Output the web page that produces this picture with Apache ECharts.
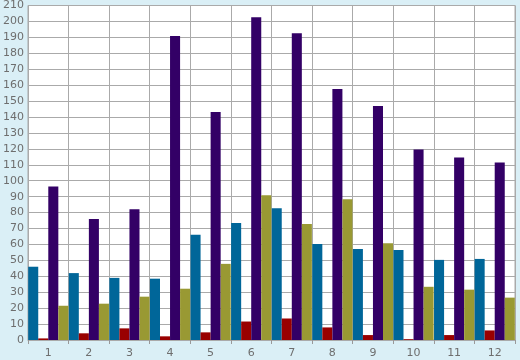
<!DOCTYPE html>
<html><head><meta charset="utf-8">
<script src="https://cdn.jsdelivr.net/npm/echarts@6/dist/echarts.min.js"></script>
<style>html,body{margin:0;padding:0;background:#daeff6;}#c{width:520px;height:360px;}</style>
</head><body><div id="c"></div>
<script>
var categories = ['1','2','3','4','5','6','7','8','9','10','11','12'];
var blueVals   = [46, 42, 39, 38.5, 66, 73.4, 82.7, 60.3, 57.2, 56.5, 50.3, 50.9];
var redVals    = [1, 4.2, 7.3, 2.3, 4.8, 11.6, 13.5, 7.9, 3.1, 0.5, 3.1, 6];
var purpleVals = [96.4, 75.9, 82.1, 190.8, 143.2, 202.6, 192.6, 157.6, 146.9, 119.6, 114.6, 111.4];
var oliveVals  = [21.5, 22.8, 27.2, 32.2, 47.8, 90.8, 72.8, 88.4, 60.8, 33.4, 31.6, 26.6];
var yTicks = {min: 0, max: 210, step: 10};

var chart = echarts.init(document.getElementById('c'));
var lbl = {color: '#6e6e6e', fontFamily: 'DejaVu Sans', fontSize: 11};
function s(name, data, color) {
  return {name: name, type: 'bar', data: data, barGap: '0%', barCategoryGap: '1%',
    itemStyle: {color: color}, animation: false};
}
chart.setOption({
  backgroundColor: '#daeff6',
  animation: false,
  grid: {left: 26, right: 5, top: 5, bottom: 20, show: true, backgroundColor: '#ffffff', borderColor: '#aaaaaa', borderWidth: 1},
  xAxis: {type: 'category', data: categories, boundaryGap: true,
    axisLine: {show: true, lineStyle: {color: '#aaaaaa'}},
    axisTick: {show: true, length: 4, lineStyle: {color: '#999999'}},
    axisLabel: Object.assign({margin: 8}, lbl),
    splitLine: {show: true, lineStyle: {color: '#aaaaaa', width: 1}}},
  yAxis: {type: 'value', min: yTicks.min, max: yTicks.max, interval: yTicks.step,
    axisLine: {show: false}, axisTick: {show: false},
    axisLabel: Object.assign({margin: 4}, lbl),
    splitLine: {show: true, lineStyle: {color: '#aaaaaa', width: 1}}},
  series: [
    s('A', blueVals, '#006699'),
    s('B', redVals, '#990000'),
    s('C', purpleVals, '#330066'),
    s('D', oliveVals, '#999933')
  ]
});
</script></body></html>
